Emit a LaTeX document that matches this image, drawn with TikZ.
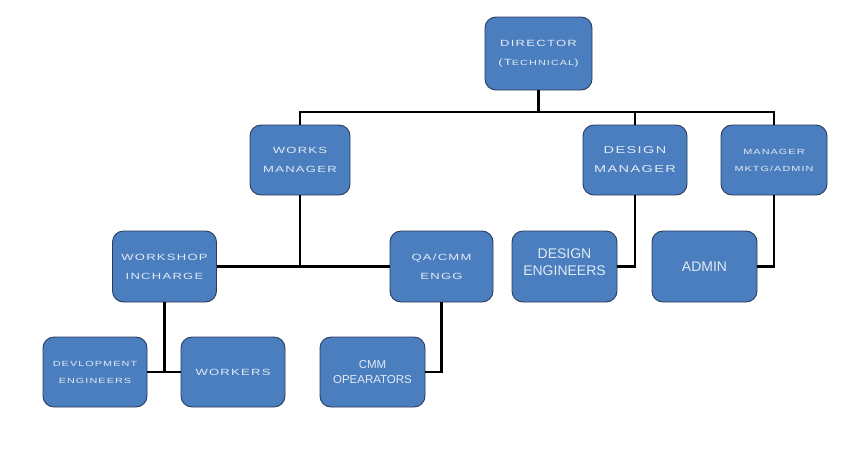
\documentclass[tikz,border=0pt]{standalone}
\usepackage{fontspec}
\setmainfont{Liberation Sans}
\newfontfamily\widefont[FakeStretch=1.45,LetterSpace=14]{Liberation Sans}
\definecolor{boxfill}{HTML}{4A7EBE}
\definecolor{boxline}{HTML}{2A3C5C}
\definecolor{boxtext}{HTML}{E2EAF5}
\begin{document}
\begin{tikzpicture}[x=1pt,y=-1pt,
  orgbox/.style={draw=boxline,line width=0.9pt,fill=boxfill,rounded corners=11pt,
    minimum width=104pt,minimum height=71pt,align=center,text=boxtext,inner sep=0pt},
  widetext/.style={font=\widefont\fontsize{9}{19}\selectfont},
  plaintext/.style={font=\fontsize{14}{17}\selectfont},
  link/.style={line width=2.2pt,black}]
\useasboundingbox (0,0) rectangle (860,475);
\node[orgbox,widetext,minimum width=107pt,minimum height=73pt] (dir) at (538.5,53.5) {DIRECTOR\\(T{\fontsize{7.5}{19}\selectfont ECHNICAL})};
\node[orgbox,widetext,minimum width=100pt,minimum height=70pt] (wm) at (300,160) {WORKS\\MANAGER};
\node[orgbox,widetext,font=\widefont\fontsize{10}{19}\selectfont,minimum height=70pt] (dm) at (635,160) {DESIGN\\MANAGER};
\node[orgbox,widetext,font=\widefont\fontsize{7.5}{17}\selectfont,minimum width=106pt,minimum height=70pt] (mk) at (774,160) {MANAGER\\MKTG/ADMIN};
\node[orgbox,widetext] (ws) at (164.5,266.5) {WORKSHOP\\INCHARGE};
\node[orgbox,widetext,minimum width=103pt] (qa) at (441.5,266.5) {QA/CMM\\ENGG};
\node[orgbox,plaintext,minimum width=105pt] (de) at (564.5,266.5) {DESIGN\\ENGINEERS\\[-8pt]};
\node[orgbox,plaintext,minimum width=105pt] (ad) at (704.5,266.5) {ADMIN};
\node[orgbox,widetext,font=\widefont\fontsize{7.5}{17}\selectfont,minimum height=70pt] (dv) at (95,372) {DEVLOPMENT\\ENGINEERS};
\node[orgbox,widetext,font=\widefont\fontsize{9}{19}\selectfont,minimum height=70pt] (wk) at (233,372) {WORKERS};
\node[orgbox,font=\fontsize{11.5}{15}\selectfont,minimum width=105pt,minimum height=70pt] (cm) at (372.5,372) {CMM\\OPEARATORS};
\coordinate (bus) at (538.5,112);
\draw[link] (dir.south) -- (bus);
\draw[link] (wm.north) -- (wm.north |- bus) -- (mk.north |- bus) -- (mk.north);
\draw[link] (dm.north |- bus) -- (dm.north);
\draw[link] (ws.east) -- (qa.west);
\draw[link] (wm.south) -- (wm.south |- ws.east);
\draw[link] (dm.south) |- (de.east);
\draw[link] (mk.south) |- (ad.east);
\draw[link] (dv.east) -- (wk.west);
\draw[link] (ws.south) -- (ws.south |- dv.east);
\draw[link] (qa.south) |- (cm.east);
\end{tikzpicture}
\end{document}
